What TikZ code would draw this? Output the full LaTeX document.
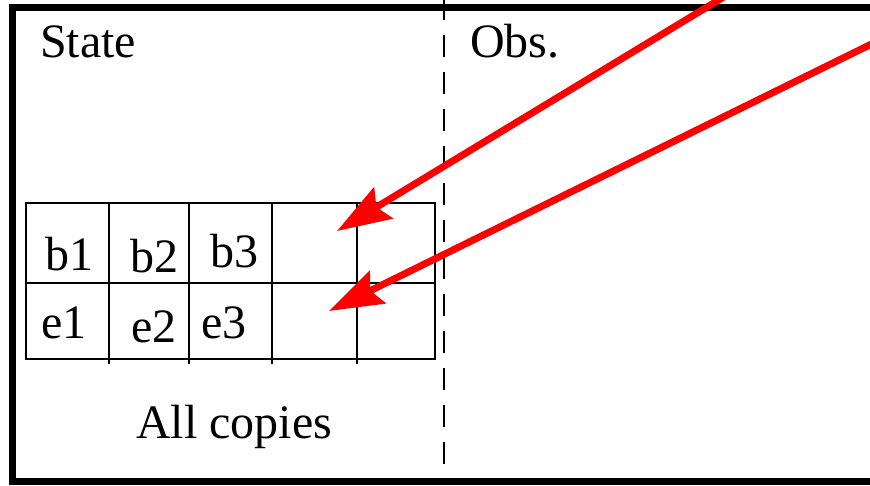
\documentclass[tikz,border=0pt]{standalone}
\usepackage{fontspec}
\setmainfont{Liberation Serif}
\usetikzlibrary{arrows.meta}
\begin{document}
\begin{tikzpicture}[x=1pt,y=-1pt,
  lbl/.style={anchor=base west,inner sep=0pt,font=\fontsize{48}{52}\selectfont},
  grid/.style={line width=2.6pt},
  redarrow/.style={draw=red,line width=7pt,-{Stealth[length=54pt,width=36pt,inset=8pt,fill=red]}}]
\useasboundingbox (0,0) rectangle (870,485);
\clip (0,0) rectangle (870,485);
\fill[white] (0,0) rectangle (870,485);
% outer frame
\draw[line width=7pt] (12,7.5) rectangle (900,481);
% dashed divider
\draw[line width=2.6pt,dash pattern=on 22pt off 15pt] (444,-2) -- (444,481);
% table grid
\draw[grid] (26,203) rectangle (435,359);
\draw[grid] (26,283) -- (435,283);
\foreach \x in {109,189,272,357} \draw[grid] (\x,203) -- (\x,364);
% labels
\node[lbl] (state) at (40,57) {State};
\node[lbl] (obs) at (470,57) {Obs.};
\node[lbl] (all) at (136,438) {All copies};
\node[lbl] (b1) at (45,270) {b1};
\node[lbl] (b2) at (130,272) {b2};
\node[lbl] (b3) at (210,267) {b3};
\node[lbl] (e1) at (41,338) {e1};
\node[lbl] (e2) at (131,342) {e2};
\node[lbl] (e3) at (201,338) {e3};
% arrows
\coordinate (s1) at (760,-25);
\coordinate (t1) at (337,231);
\coordinate (s2) at (900,30);
\coordinate (t2) at (329,311);
\draw[redarrow] (s1) -- (t1);
\draw[redarrow] (s2) -- (t2);
\end{tikzpicture}
\end{document}
